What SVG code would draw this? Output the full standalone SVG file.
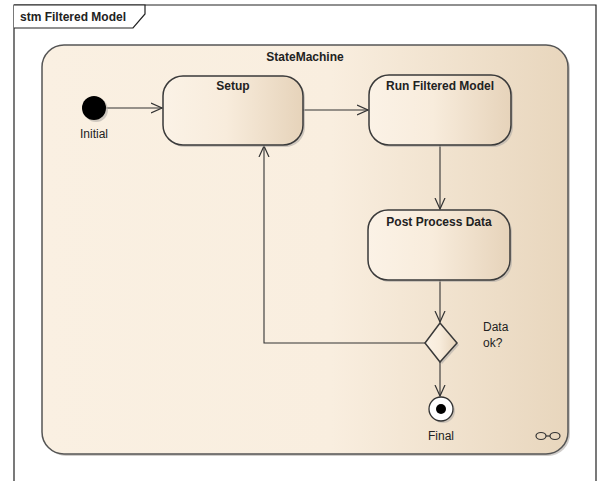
<svg xmlns="http://www.w3.org/2000/svg" width="601" height="481" viewBox="0 0 601 481">
<defs>
<linearGradient id="gBig" x1="0" y1="0" x2="1" y2="0">
<stop offset="0" stop-color="#FAF0E2"/>
<stop offset="0.55" stop-color="#F9EEDF"/>
<stop offset="1" stop-color="#E8D6BD"/>
</linearGradient>
<linearGradient id="gState" x1="0" y1="0" x2="1" y2="0">
<stop offset="0" stop-color="#FBF2E6"/>
<stop offset="0.45" stop-color="#F8ECDC"/>
<stop offset="1" stop-color="#E6D3BA"/>
</linearGradient>
<marker id="open" viewBox="0 0 12 12" refX="11" refY="6" markerWidth="12" markerHeight="12" markerUnits="userSpaceOnUse" orient="auto">
<path d="M0,1 L11,6 L0,11" fill="none" stroke="#333" stroke-width="1.2"/>
</marker>
</defs>
<style>
text{font-family:"Liberation Sans",Arial,sans-serif;font-size:12px;fill:#222}
.b{font-weight:bold}
.st{fill:url(#gState);stroke:#3a3a3a;stroke-width:1.5}
.sh{fill:#b0aca6;opacity:0.6}
.c{fill:none;stroke:#333;stroke-width:1.1}
</style>
<rect x="0" y="0" width="601" height="481" fill="#fff"/>
<g id="frame">
<path d="M14,481 L14,5 L596,5 L596,481" fill="none" stroke="#222" stroke-width="1.2"/>
<path d="M14,5 L145,5 L145,14 L133,28 L14,28" fill="#fff" stroke="#222" stroke-width="1.2"/>
<text class="b" x="20" y="21">stm Filtered Model</text>
</g>
<g id="StateMachine">
<rect x="44" y="47" width="526" height="409" rx="22" class="sh"/>
<rect x="42" y="45" width="526" height="409" rx="22" fill="url(#gBig)" stroke="#555" stroke-width="1.5"/>
<text class="b" x="305" y="61" text-anchor="middle">StateMachine</text>
<g fill="none" stroke="#333" stroke-width="1.2">
<ellipse cx="541" cy="436" rx="5" ry="3.5"/>
<ellipse cx="555" cy="436" rx="5" ry="3.5"/>
<line x1="546" y1="436" x2="550" y2="436"/>
</g>
</g>
<g id="connectors">
<line class="c" x1="106" y1="108" x2="162" y2="108" marker-end="url(#open)"/>
<line class="c" x1="303" y1="110" x2="368" y2="110" marker-end="url(#open)"/>
<line class="c" x1="440" y1="145" x2="440" y2="209" marker-end="url(#open)"/>
<line class="c" x1="440" y1="280" x2="440" y2="322" marker-end="url(#open)"/>
<line class="c" x1="440" y1="362" x2="440" y2="396" marker-end="url(#open)"/>
<polyline class="c" points="425,343 264,343 264,146" marker-end="url(#open)"/>
</g>
<g id="Initial">
<circle cx="96" cy="110" r="12" class="sh"/>
<circle cx="94" cy="108" r="12" fill="#000"/>
<text x="94" y="138" text-anchor="middle">Initial</text>
</g>
<g id="Setup">
<rect x="165" y="78" width="140" height="69" rx="20" class="sh"/>
<rect x="163" y="76" width="140" height="69" rx="20" class="st"/>
<text class="b" x="233" y="90" text-anchor="middle">Setup</text>
</g>
<g id="RunFilteredModel">
<rect x="371" y="77" width="142" height="70" rx="20" class="sh"/>
<rect x="369" y="75" width="142" height="70" rx="20" class="st"/>
<text class="b" x="440" y="90" text-anchor="middle">Run Filtered Model</text>
</g>
<g id="PostProcessData">
<rect x="370" y="212" width="142" height="70" rx="20" class="sh"/>
<rect x="368" y="210" width="142" height="70" rx="20" class="st"/>
<text class="b" x="439" y="226" text-anchor="middle">Post Process Data</text>
</g>
<g id="Decision">
<polygon points="442,325 459,345 442,364 427,345" class="sh"/>
<polygon points="440,323 457,343 440,362 425,343" class="st" stroke-width="1.3"/>
<text x="483" y="331">Data</text>
<text x="483" y="347">ok?</text>
</g>
<g id="Final">
<circle cx="443" cy="411" r="12" class="sh"/>
<circle cx="441" cy="409" r="12" fill="#fff" stroke="#333" stroke-width="1.3"/>
<circle cx="441" cy="409" r="5" fill="#000"/>
<text x="441" y="440" text-anchor="middle">Final</text>
</g>
</svg>
